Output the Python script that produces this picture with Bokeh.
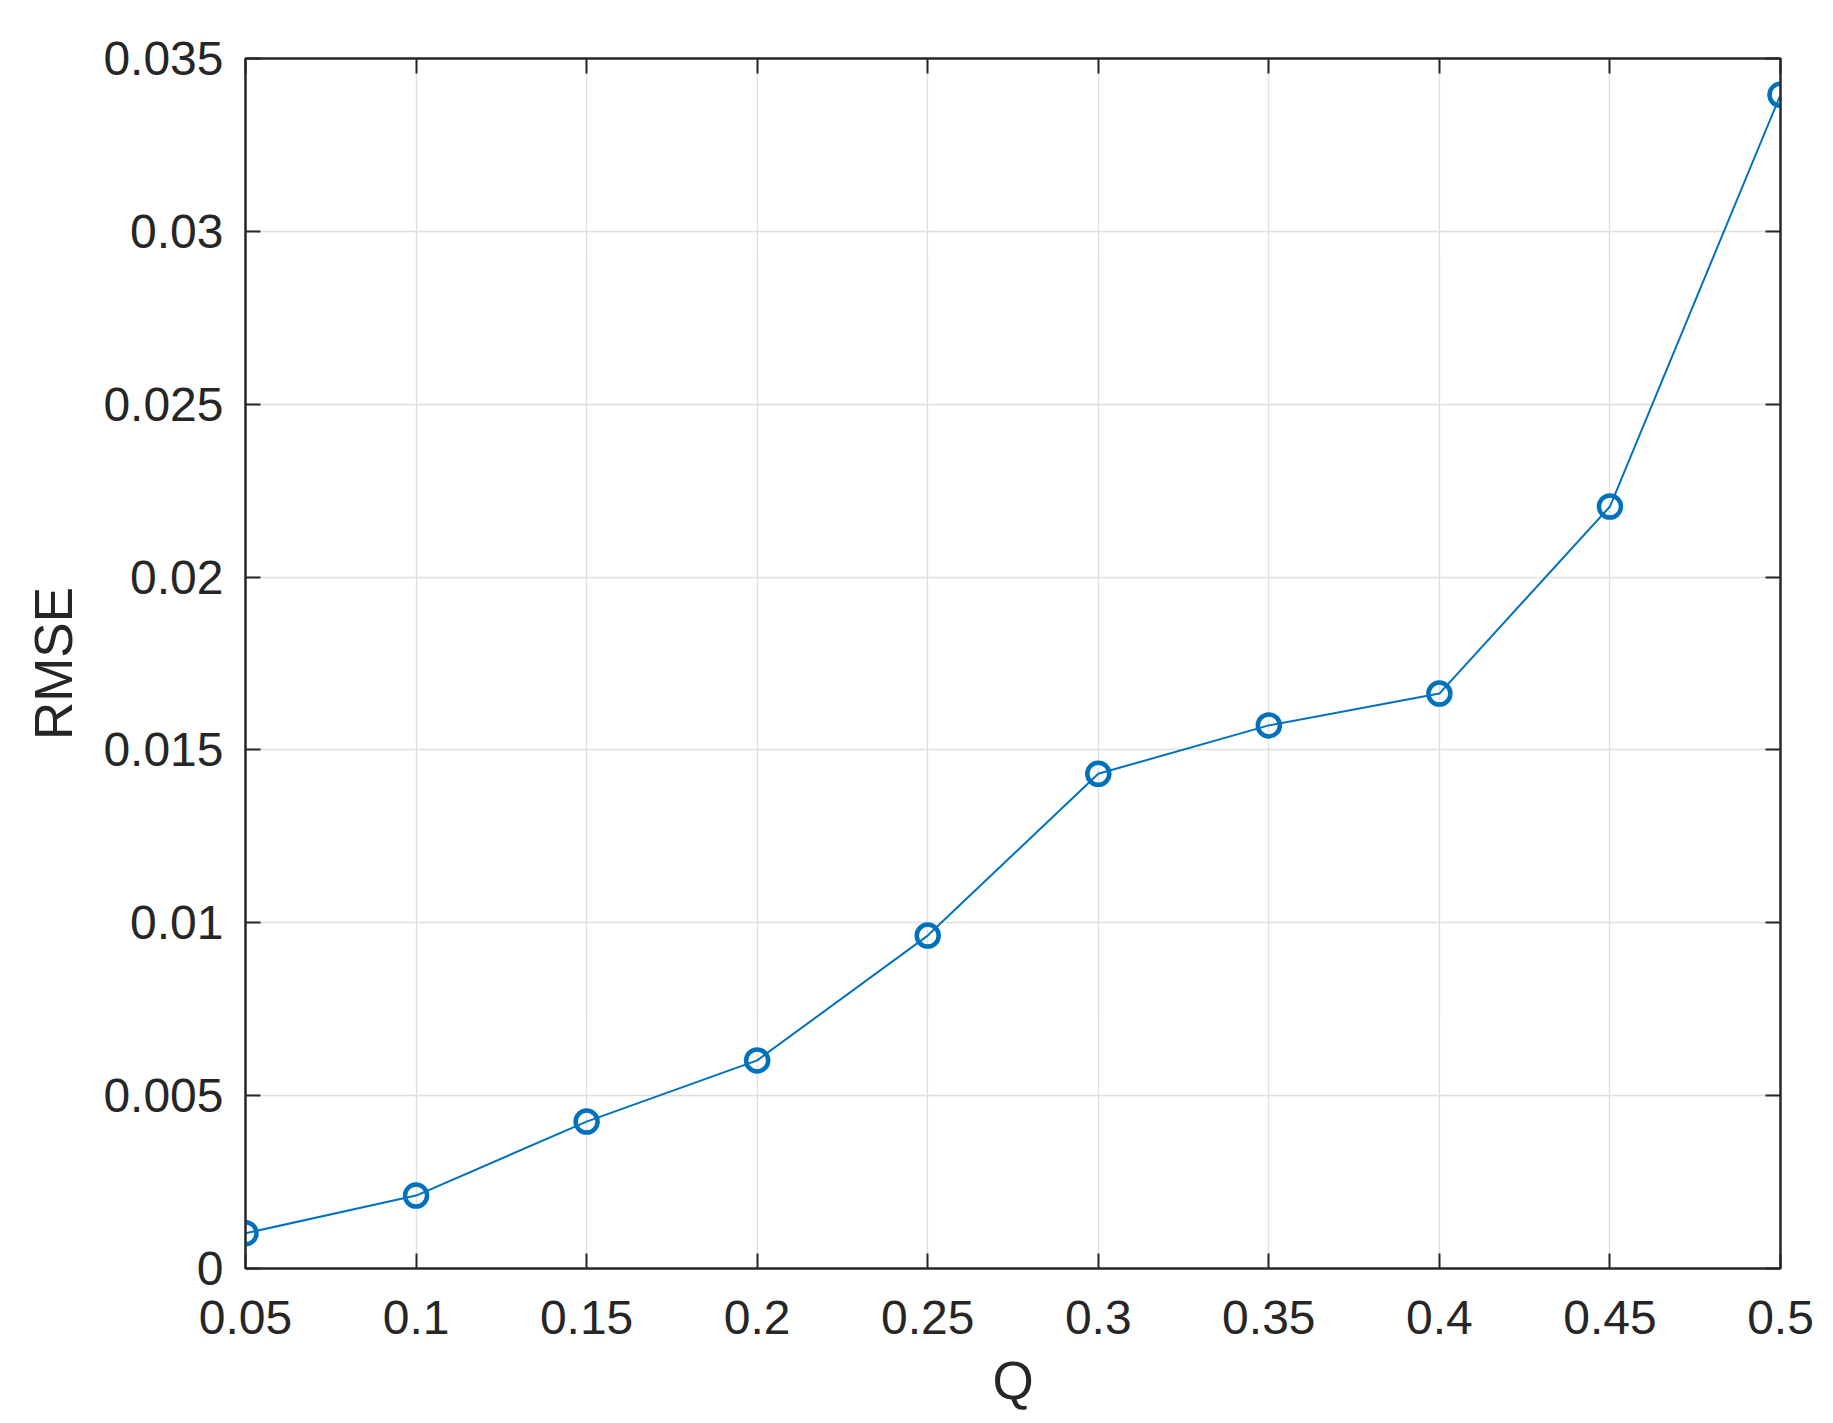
from bokeh.plotting import figure
from bokeh.models import Range1d, FixedTicker, LinearAxis
from bokeh.embed import file_html
from bokeh.resources import INLINE

# Data
q_values = [0.05, 0.10, 0.15, 0.20, 0.25, 0.30, 0.35, 0.40, 0.45, 0.50]
rmse_values = [0.00102, 0.00211, 0.00425, 0.00602, 0.00963, 0.01431, 0.01571, 0.01663, 0.02204, 0.03395]

x_ticks = [0.05, 0.10, 0.15, 0.20, 0.25, 0.30, 0.35, 0.40, 0.45, 0.50]
x_tick_labels = ["0.05", "0.1", "0.15", "0.2", "0.25", "0.3", "0.35", "0.4", "0.45", "0.5"]
y_ticks = [0.0, 0.005, 0.010, 0.015, 0.020, 0.025, 0.030, 0.035]
y_tick_labels = ["0", "0.005", "0.01", "0.015", "0.02", "0.025", "0.03", "0.035"]

FONT = "Liberation Sans"
DARK = "#262626"
BLUE = "#0072BD"

p = figure(
    width=1833, height=1423,
    x_range=Range1d(0.05, 0.5), y_range=Range1d(0.0, 0.035),
    output_backend="svg", toolbar_location=None,
    min_border_left=245, min_border_right=53,
    min_border_top=58, min_border_bottom=155,
)
p.outline_line_color = DARK
p.outline_line_width = 2
p.background_fill_color = "white"
p.border_fill_color = "white"

p.xaxis.axis_label = "Q"
p.yaxis.axis_label = "RMSE"

for ax in p.xaxis + p.yaxis:
    ax.axis_line_color = DARK
    ax.axis_line_width = 2
    ax.major_tick_line_color = DARK
    ax.major_tick_line_width = 2
    ax.major_tick_in = 15
    ax.major_tick_out = 0
    ax.minor_tick_line_color = None
    ax.major_label_text_font = FONT
    ax.major_label_text_font_size = "48px"
    ax.major_label_text_color = DARK
    ax.axis_label_text_font = FONT
    ax.axis_label_text_font_size = "53px"
    ax.axis_label_text_font_style = "normal"
    ax.axis_label_text_color = DARK

p.xaxis.ticker = FixedTicker(ticks=x_ticks)
p.xaxis.major_label_overrides = {t: l for t, l in zip(x_ticks, x_tick_labels)}
p.yaxis.ticker = FixedTicker(ticks=y_ticks)
p.yaxis.major_label_overrides = {t: l for t, l in zip(y_ticks, y_tick_labels)}
p.xaxis.major_label_standoff = 32
p.xaxis.axis_label_standoff = 14
p.yaxis.major_label_standoff = 22
p.yaxis.axis_label_standoff = 17

# Box ticks on top and right (labels not drawn)
top_axis = LinearAxis(ticker=FixedTicker(ticks=x_ticks))
right_axis = LinearAxis(ticker=FixedTicker(ticks=y_ticks))
for ax in (top_axis, right_axis):
    ax.axis_line_color = DARK
    ax.axis_line_width = 2
    ax.major_tick_line_color = DARK
    ax.major_tick_line_width = 2
    ax.major_tick_in = 15
    ax.major_tick_out = 0
    ax.minor_tick_line_color = None
    ax.major_label_text_font_size = "1px"
    ax.major_label_text_color = None
    ax.major_label_standoff = 0
p.add_layout(top_axis, "above")
p.add_layout(right_axis, "right")

p.xgrid.ticker = FixedTicker(ticks=x_ticks)
p.ygrid.ticker = FixedTicker(ticks=y_ticks)
p.grid.grid_line_color = "#dfdfdf"
p.grid.grid_line_width = 1.3

p.line(q_values, rmse_values, line_color=BLUE, line_width=2)
p.scatter(q_values, rmse_values, marker="circle", size=22, fill_color=None,
          line_color=BLUE, line_width=4.5)

open("out.html", "w").write(file_html(p, INLINE))
